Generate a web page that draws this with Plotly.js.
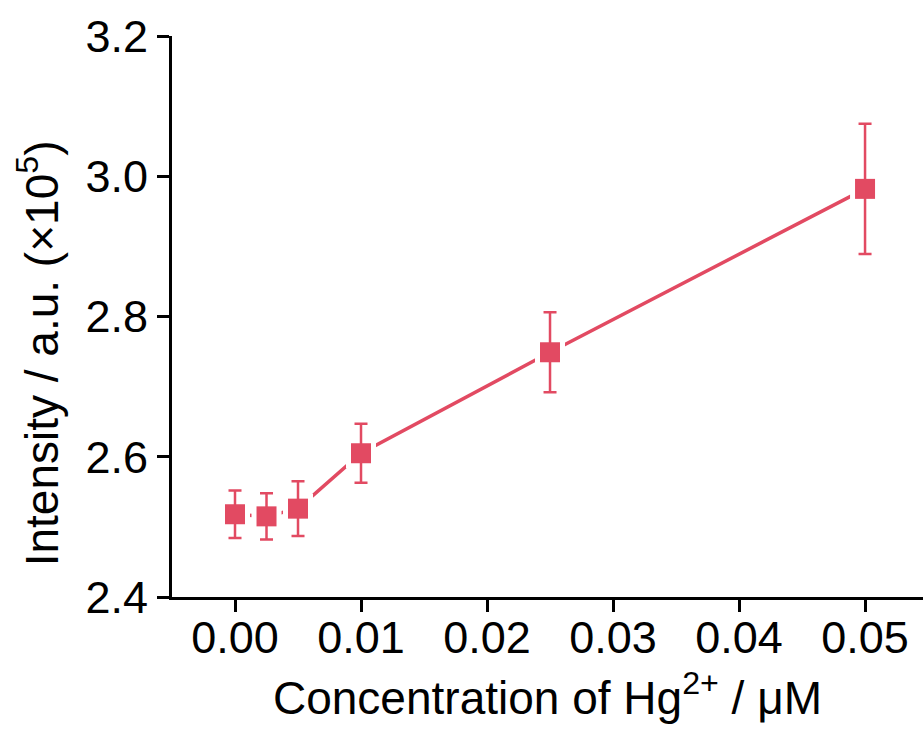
<!DOCTYPE html>
<html>
<head>
<meta charset="utf-8">
<script src="https://cdn.plot.ly/plotly-3.0.1.min.js"></script>
<style>html,body{margin:0;padding:0;background:#fff;}#chart{width:923px;height:730px;}</style>
</head>
<body>
<div id="chart"></div>
<script>
const concentration = [0, 0.0025, 0.005, 0.01, 0.025, 0.05];
const intensity = [2.518, 2.515, 2.526, 2.605, 2.749, 2.982];
const errorValues = [0.034, 0.033, 0.039, 0.042, 0.057, 0.093];
const xTickValues = [0, 0.01, 0.02, 0.03, 0.04, 0.05];
const xTickLabels = ['0.00', '0.01', '0.02', '0.03', '0.04', '0.05'];
const yTickValues = [2.4, 2.6, 2.8, 3.0, 3.2];
const yTickLabels = ['2.4', '2.6', '2.8', '3.0', '3.2'];
const xTitle = 'Concentration of Hg<sup>2+</sup> / μM';
const yTitle = 'Intensity / a.u. (×10<sup>5</sup>)';

const red = '#e24a62';
const font = 'Liberation Sans, Arial, sans-serif';

const traces = [
  {x: concentration, y: intensity, mode: 'lines', line: {color: red, width: 3.5}, hoverinfo: 'skip', showlegend: false},
  {x: concentration, y: intensity, mode: 'markers', marker: {symbol: 'square', size: 30, color: '#ffffff'}, hoverinfo: 'skip', showlegend: false},
  {x: concentration, y: intensity, mode: 'markers', marker: {symbol: 'square', size: 20, color: red},
   error_y: {type: 'data', array: errorValues, visible: true, color: red, thickness: 2.5, width: 6.5}, showlegend: false}
];

const layout = {
  width: 923, height: 730,
  margin: {l: 172, r: 0, t: 36, b: 133},
  paper_bgcolor: '#fff', plot_bgcolor: '#fff',
  font: {family: font, color: '#000', size: 45},
  xaxis: {
    range: [-0.005, 0.0546], showgrid: false, zeroline: false,
    showline: true, linecolor: '#000', linewidth: 3,
    ticks: 'outside', ticklen: 12, tickwidth: 3, tickcolor: '#000',
    tickvals: xTickValues, ticktext: xTickLabels,
    tickfont: {size: 45, family: font}, ticklabelstandoff: -13,
    title: {text: xTitle, font: {size: 46, family: font}, standoff: 20},
    automargin: false
  },
  yaxis: {
    range: [2.4, 3.2], showgrid: false, zeroline: false,
    showline: true, linecolor: '#000', linewidth: 3,
    ticks: 'outside', ticklen: 12, tickwidth: 3, tickcolor: '#000',
    tickvals: yTickValues, ticktext: yTickLabels,
    tickfont: {size: 45, family: font},
    automargin: false
  },
  annotations: [{
    text: yTitle, xref: 'paper', yref: 'paper', x: -0.178, y: 0.435,
    xanchor: 'center', yanchor: 'middle', textangle: -90, showarrow: false,
    font: {size: 46, family: font, color: '#000'}
  }]
};

Plotly.newPlot('chart', traces, layout, {displayModeBar: false, staticPlot: true});
</script>
</body>
</html>
